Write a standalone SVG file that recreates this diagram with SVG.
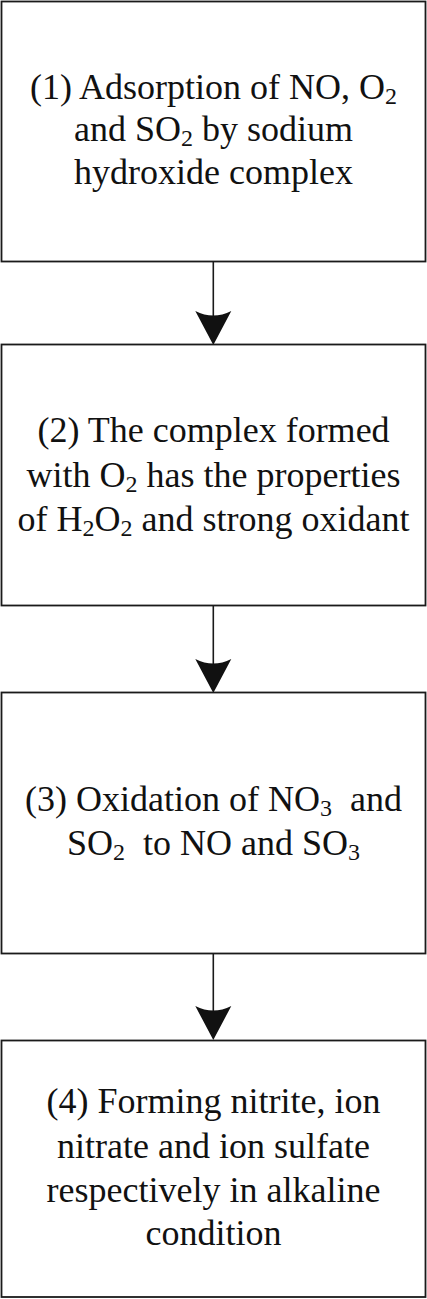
<svg xmlns="http://www.w3.org/2000/svg" width="427" height="1299" viewBox="0 0 427 1299">
<defs>
<style>
.box{fill:#ffffff;stroke:#1a1a1a;stroke-width:1.8}
.t{font-family:'Liberation Serif','Times New Roman',Times,serif;font-size:36px;fill:#111111;text-anchor:middle}
.s{font-size:24px}
.line{stroke:#1a1a1a;stroke-width:1.6;fill:none}
.head{fill:#111111;stroke:none}
</style>
<path id="ah" d="M-18,0 Q0,9 18,0 L0,34 Z"/>
</defs>
<rect x="0" y="0" width="427" height="1299" fill="#ffffff"/>
<g id="connectors">
<line class="line" x1="213.3" y1="261.5" x2="213.3" y2="330"/>
<use href="#ah" class="head" x="213.3" y="311"/>
<line class="line" x1="213.3" y1="605.5" x2="213.3" y2="678"/>
<use href="#ah" class="head" x="213.3" y="659"/>
<line class="line" x1="213.3" y1="953.5" x2="213.3" y2="1025"/>
<use href="#ah" class="head" x="213.3" y="1006"/>
</g>
<g font-family="Liberation Serif, serif">
<g id="node1">
<rect class="box" x="1.5" y="1.5" width="424" height="260"/>
<text class="t" x="213.5" y="99">(1) Adsorption of NO, O<tspan class="s" dy="5">2</tspan></text>
<text class="t" x="213.5" y="141">and SO<tspan class="s" dy="5">2</tspan><tspan dy="-5"> by sodium</tspan></text>
<text class="t" x="213.5" y="184">hydroxide complex</text>
</g>
<g id="node2">
<rect class="box" x="1.5" y="344.5" width="424" height="261"/>
<text class="t" x="213.5" y="442">(2) The complex formed</text>
<text class="t" x="213.5" y="487">with O<tspan class="s" dy="5">2</tspan><tspan dy="-5"> has the properties</tspan></text>
<text class="t" x="213.5" y="531">of H<tspan class="s" dy="5">2</tspan><tspan dy="-5">O</tspan><tspan class="s" dy="5">2</tspan><tspan dy="-5"> and strong oxidant</tspan></text>
</g>
<g id="node3">
<rect class="box" x="1.5" y="692.5" width="424" height="261"/>
<text class="t" x="213.5" y="811" xml:space="preserve">(3) Oxidation of NO<tspan class="s" dy="5">3</tspan><tspan dy="-5">  and</tspan></text>
<text class="t" x="213.5" y="855" xml:space="preserve">SO<tspan class="s" dy="5">2</tspan><tspan dy="-5">  to NO and SO</tspan><tspan class="s" dy="5">3</tspan></text>
</g>
<g id="node4">
<rect class="box" x="1.5" y="1040.5" width="424" height="256.5"/>
<text class="t" x="213.5" y="1113">(4) Forming nitrite, ion</text>
<text class="t" x="213.5" y="1158">nitrate and ion sulfate</text>
<text class="t" x="213.5" y="1202">respectively in alkaline</text>
<text class="t" x="213.5" y="1245">condition</text>
</g>
</g>
</svg>
